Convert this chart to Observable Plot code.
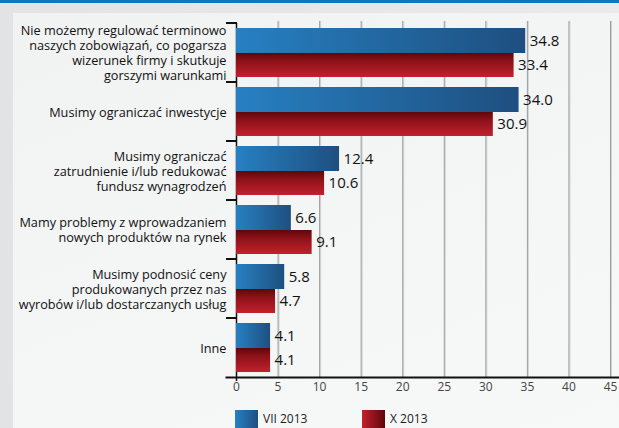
<!DOCTYPE html>
<html>
<head>
<meta charset="utf-8">
<script src="https://cdn.jsdelivr.net/npm/d3@7"></script>
<script src="https://cdn.jsdelivr.net/npm/@observablehq/plot@0.6"></script>
<style>
  html, body { margin: 0; padding: 0; }
  #wrap { position: relative; width: 619px; height: 428px; overflow: hidden;
    background: linear-gradient(90deg, #e2e3e4, #e9eaeb); font-family: "Open Sans", sans-serif; }
  #stripe { position: absolute; left: 0; top: 0; width: 619px; height: 3px; background: #0b78c2; }
  #panel { position: absolute; left: 13px; top: 13px; width: 606px; height: 415px;
    background: linear-gradient(160deg, #f1f2f2 0%, #f4f5f5 50%, #f7f8f8 100%); }
  #chart { position: absolute; left: 0; top: 0; }
  #legend { position: absolute; top: 410px; left: 0; width: 619px; height: 18px; font-size: 12px; color: #222; }
  .item { position: absolute; top: 0; display: flex; align-items: flex-start; }
  .sw { width: 23px; height: 20px; margin-right: 5px; }
  .lab { line-height: 18px; }
</style>
</head>
<body>
<div id="wrap">
  <div id="stripe"></div>
  <div id="panel"></div>
  <div id="chart"></div>
  <div id="legend"></div>
</div>
<script>
const categories = [
  "Nie możemy regulować terminowo\nnaszych zobowiązań, co pogarsza\nwizerunek firmy i skutkuje\ngorszymi warunkami",
  "Musimy ograniczać inwestycje",
  "Musimy ograniczać\nzatrudnienie i/lub redukować\nfundusz wynagrodzeń",
  "Mamy problemy z wprowadzaniem\nnowych produktów na rynek",
  "Musimy podnosić ceny\nprodukowanych przez nas\nwyrobów i/lub dostarczanych usług",
  "Inne"
];
const seriesNames = ["VII 2013", "X 2013"];
const valuesVII = [34.8, 34.0, 12.4, 6.6, 5.8, 4.1];
const valuesX = [33.4, 30.9, 10.6, 9.1, 4.7, 4.1];
const xTicks = [0, 5, 10, 15, 20, 25, 30, 35, 40, 45];

const rows = categories.map((c, i) => ({cat: c, vii: valuesVII[i], x: valuesX[i]}));
const fmt = d3.format(".1f");
const gridTicks = xTicks.filter(d => d > 0);

const chart = Plot.plot({
  width: 619,
  height: 400,
  marginLeft: 236,
  marginRight: 9,
  marginTop: 23,
  marginBottom: 23,
  style: {background: "transparent", fontFamily: "Open Sans, sans-serif", overflow: "visible"},
  x: {domain: [0, 45], ticks: xTicks},
  y: {domain: categories, padding: 0, axis: null},
  marks: [
    Plot.ruleX(gridTicks, {stroke: "#d2d3d3", strokeWidth: 1, dx: 1, insetTop: -2}),
    Plot.ruleX(gridTicks, {stroke: "#9a9b9c", strokeWidth: 1, insetTop: -2}),
    Plot.ruleX([0], {stroke: "#111", strokeWidth: 1.5, insetBottom: -4}),
    Plot.barX(rows, {y: "cat", x: "vii", fill: "url(#gBlue)", insetTop: 5, insetBottom: 29}),
    Plot.barX(rows, {y: "cat", x: "x", fill: "url(#gRed)", insetTop: 30, insetBottom: 5}),
    Plot.text(rows, {y: "cat", x: "vii", text: d => fmt(d.vii), dx: 4, dy: -12, textAnchor: "start", fontSize: 15, fill: "#111"}),
    Plot.text(rows, {y: "cat", x: "x", text: d => fmt(d.x), dx: 4, dy: 12.5, textAnchor: "start", fontSize: 15, fill: "#111"}),
    Plot.text(rows, {y: "cat", x: 0, text: "cat", dx: -10, textAnchor: "end", lineAnchor: "middle", fontSize: 12.7, lineHeight: 1.18, fill: "#111"}),
    Plot.frame({anchor: "bottom", stroke: "#111", strokeWidth: 2, insetLeft: -10, insetRight: -9}),
    Plot.axisX({ticks: xTicks, tickSize: 0, tickPadding: 5, fontSize: 12, color: "#444"})
  ]
});

const svg = d3.select(chart);
svg.insert("defs", ":first-child").html(`
  <linearGradient id="gBlue" x1="0" y1="0" x2="1" y2="0">
    <stop offset="0" stop-color="#2780c2"/>
    <stop offset="1" stop-color="#1e4f80"/>
  </linearGradient>
  <linearGradient id="gRed" x1="0" y1="0" x2="0" y2="1">
    <stop offset="0" stop-color="#5e070b"/>
    <stop offset="0.35" stop-color="#8e1219"/>
    <stop offset="1" stop-color="#c1212d"/>
  </linearGradient>`);

// band-boundary dashes on the category axis, positioned from the y scale
const yS = chart.scale("y");
const xS = chart.scale("x");
const x0 = xS.apply(0);
const bounds = categories.map(c => yS.apply(c));
svg.append("g").selectAll("line").data(bounds).join("line")
  .attr("x1", x0 - 10).attr("x2", x0 + 1)
  .attr("y1", d => d).attr("y2", d => d)
  .attr("stroke", "#111").attr("stroke-width", 2);

document.getElementById("chart").appendChild(chart);

// legend
const legend = document.getElementById("legend");
const legendColors = [
  "linear-gradient(90deg, #2780c2, #1e4f80)",
  "linear-gradient(90deg, #c1212d, #5e070b)"
];
seriesNames.forEach((name, i) => {
  const item = document.createElement("div");
  item.className = "item";
  item.style.left = (i === 0 ? 235 : 362) + "px";
  item.innerHTML = `<div class="sw" style="background:${legendColors[i]}"></div><div class="lab">${name}</div>`;
  legend.appendChild(item);
});
</script>
</body>
</html>
